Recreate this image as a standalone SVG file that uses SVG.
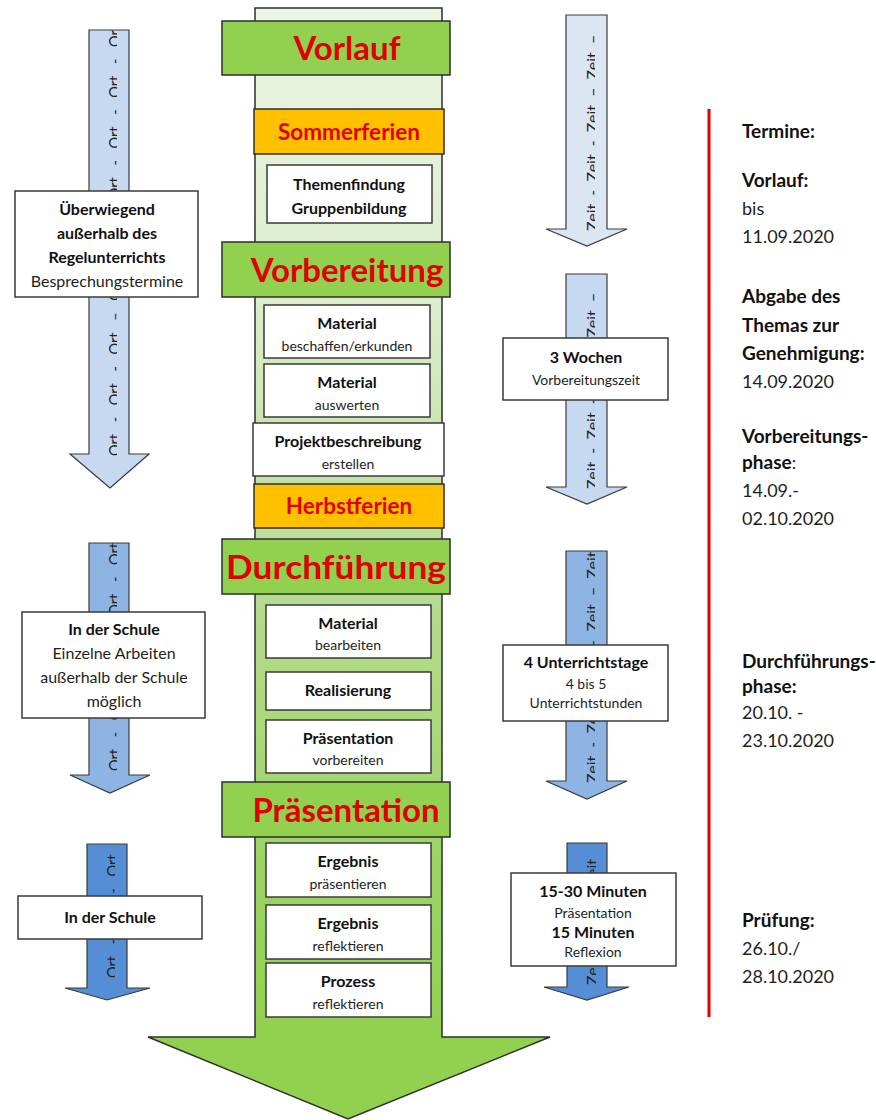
<svg xmlns="http://www.w3.org/2000/svg" width="876" height="1120" viewBox="0 0 876 1120">
<defs>
<linearGradient id="shaftGrad" gradientUnits="userSpaceOnUse" x1="0" y1="8" x2="0" y2="1040">
<stop offset="0" stop-color="#ebf5e3"/>
<stop offset="0.28" stop-color="#dcedcd"/>
<stop offset="0.57" stop-color="#b6db90"/>
<stop offset="0.86" stop-color="#9bd362"/>
<stop offset="1" stop-color="#92d050"/>
</linearGradient>
<clipPath id="cL1"><rect x="89" y="30" width="28" height="430"/></clipPath>
<clipPath id="cL2"><rect x="89" y="543" width="28" height="240"/></clipPath>
<clipPath id="cL3"><rect x="87" y="844" width="28" height="150"/></clipPath>
<clipPath id="cR1"><rect x="566" y="15" width="29" height="220"/></clipPath>
<clipPath id="cR2"><rect x="566" y="274" width="29" height="220"/></clipPath>
<clipPath id="cR3"><rect x="566" y="551" width="29" height="235"/></clipPath>
<clipPath id="cR4"><rect x="567" y="843" width="29" height="148"/></clipPath>
</defs>
<style>
text{font-family:Lato,"Liberation Sans",sans-serif;fill:#1e1e1e}
.b{font-weight:bold;fill:#111}
.box{fill:#fff;stroke:#3a3a3a;stroke-width:1.5}
.hdr{fill:#92d050;stroke:#2e2e2e;stroke-width:1.5}
.hol{fill:#ffc000;stroke:#2e2e2e;stroke-width:1.5}
.ht{font-weight:bold;fill:#e00000;font-size:33px;text-anchor:middle}
.ot{font-weight:bold;fill:#e00000;font-size:22.5px;text-anchor:middle}
.c{text-anchor:middle}
.t1{font-size:16px}
.t2{font-size:14px}
.t3{font-size:16px}
.arr{stroke:#3a3a3a;stroke-width:1.2}
.a1{fill:#dce6f2}
.a2{fill:#c6d9f1}
.a3{fill:#8eb4e3}
.a4{fill:#558ed5}
.rt{font-size:16px;fill:#222;word-spacing:4px}
.rl{font-size:14.5px;fill:#222;word-spacing:8px}
.side{font-size:18px}
.sb{font-size:19px;font-weight:bold;fill:#111}
</style>
<rect width="876" height="1120" fill="#fff"/>

<g id="main-arrow">
<polygon points="255,8 442,8 442,1037 550,1037 348,1119 148,1037 255,1037" fill="url(#shaftGrad)" stroke="#2e2e2e" stroke-width="1.5"/>
</g>

<g id="connectors">
<g id="arrow-left-1">
<polygon class="arr a2" points="89,30 129,30 129,454 149,454 110,488 70,454 89,454"/>
<g clip-path="url(#cL1)"><text class="rl" transform="translate(119.5,456) rotate(-90)">Ort - Ort - Ort – Ort - Ort - Ort - Ort - Ort - Ort -</text></g>
</g>
<g id="arrow-left-2">
<polygon class="arr a3" points="89,543 129,543 129,775 150,775 110,793 70,775 89,775"/>
<g clip-path="url(#cL2)"><text class="rl" transform="translate(119.5,771) rotate(-90)">Ort - Ort - Ort – Ort - Ort -</text></g>
</g>
<g id="arrow-left-3">
<polygon class="arr a4" points="87,844 127,844 127,988 150,988 107,1000 65,988 87,988"/>
<g clip-path="url(#cL3)"><text class="rl" transform="translate(117.5,978) rotate(-90)">Ort - Ort - Ort -</text></g>
</g>
<g id="arrow-right-1">
<polygon class="arr a1" points="566,15 607,15 607,229 627,229 587,246 546,229 566,229"/>
<g clip-path="url(#cR1)"><text class="rt" transform="translate(598,231) rotate(-90)">Zeit - Zeit - Zeit – Zeit –</text></g>
</g>
<g id="arrow-right-2">
<polygon class="arr a2" points="566,274 607,274 607,487 627,487 587,504 546,487 566,487"/>
<g clip-path="url(#cR2)"><text class="rt" transform="translate(598,489) rotate(-90)">Zeit - Zeit - Zeit – Zeit –</text></g>
</g>
<g id="arrow-right-3">
<polygon class="arr a3" points="566,551 607,551 607,781 627,781 587,799 546,781 566,781"/>
<g clip-path="url(#cR3)"><text class="rt" transform="translate(598,783) rotate(-90)">Zeit - Zeit - Zeit – Zeit – Zeit</text></g>
</g>
<g id="arrow-right-4">
<polygon class="arr a4" points="567,843 607,843 607,987 629,987 587,1000 544,987 567,987"/>
<g clip-path="url(#cR4)"><text class="rt" transform="translate(598,985) rotate(-90)">Zeit - Zeit - Zeit</text></g>
</g>
</g>

<g id="hdr-vorlauf"><rect class="hdr" x="222" y="21" width="228" height="54"/><text class="ht" x="347" y="60">Vorlauf</text></g>
<g id="hol-sommerferien"><rect class="hol" x="254" y="109" width="190" height="45"/><text class="ot" x="349" y="140">Sommerferien</text></g>
<g id="box-themenfindung"><rect class="box" x="267" y="165" width="165" height="58"/><text class="b c t1" x="349" y="190">Themenfindung</text><text class="b c t1" x="349" y="214">Gruppenbildung</text></g>
<g id="hdr-vorbereitung"><rect class="hdr" x="222" y="242" width="228" height="55"/><text class="ht" x="347" y="282">Vorbereitung</text></g>
<g id="box-material-1"><rect class="box" x="264" y="305" width="166" height="53"/><text class="b c t1" x="347" y="329">Material</text><text class="c t2" x="347" y="351">beschaffen/erkunden</text></g>
<g id="box-material-2"><rect class="box" x="264" y="364" width="166" height="53"/><text class="b c t1" x="347" y="388">Material</text><text class="c t2" x="347" y="410">auswerten</text></g>
<g id="box-projekt"><rect class="box" x="253" y="423" width="191" height="53"/><text class="b c t1" x="348" y="447">Projektbeschreibung</text><text class="c t2" x="348" y="469">erstellen</text></g>
<g id="hol-herbstferien"><rect class="hol" x="254" y="484" width="190" height="44"/><text class="ot" x="349" y="514">Herbstferien</text></g>
<g id="hdr-durchfuehrung"><rect class="hdr" x="222" y="539" width="228" height="55"/><text class="ht" x="336" y="579" textLength="220" lengthAdjust="spacingAndGlyphs">Durchführung</text></g>
<g id="box-material-3"><rect class="box" x="266" y="605" width="165" height="53"/><text class="b c t1" x="348" y="629">Material</text><text class="c t2" x="348" y="650">bearbeiten</text></g>
<g id="box-realisierung"><rect class="box" x="266" y="672" width="165" height="38"/><text class="b c t1" x="348" y="696">Realisierung</text></g>
<g id="box-praes-vorb"><rect class="box" x="266" y="720" width="165" height="53"/><text class="b c t1" x="348" y="744">Präsentation</text><text class="c t2" x="348" y="765">vorbereiten</text></g>
<g id="hdr-praesentation"><rect class="hdr" x="222" y="782" width="228" height="55"/><text class="ht" x="346" y="822">Präsentation</text></g>
<g id="box-ergebnis-1"><rect class="box" x="266" y="843" width="165" height="54"/><text class="b c t1" x="348" y="867">Ergebnis</text><text class="c t2" x="348" y="889">präsentieren</text></g>
<g id="box-ergebnis-2"><rect class="box" x="266" y="905" width="165" height="54"/><text class="b c t1" x="348" y="929">Ergebnis</text><text class="c t2" x="348" y="951">reflektieren</text></g>
<g id="box-prozess"><rect class="box" x="266" y="963" width="165" height="54"/><text class="b c t1" x="348" y="987">Prozess</text><text class="c t2" x="348" y="1009">reflektieren</text></g>

<g id="box-left-1"><rect class="box" x="15" y="191" width="183" height="106"/>
<text class="b c t3" x="107" y="215">Überwiegend</text>
<text class="b c t3" x="107" y="239">außerhalb des</text>
<text class="b c t3" x="107" y="263">Regelunterrichts</text>
<text class="c t3" x="107" y="287">Besprechungstermine</text></g>
<g id="box-left-2"><rect class="box" x="22" y="612" width="183" height="106"/>
<text class="b c t3" x="114" y="635">In der Schule</text>
<text class="c t3" x="114" y="659">Einzelne Arbeiten</text>
<text class="c t3" x="114" y="683">außerhalb der Schule</text>
<text class="c t3" x="114" y="707">möglich</text></g>
<g id="box-left-3"><rect class="box" x="18" y="896" width="184" height="43"/>
<text class="b c t3" x="110" y="923">In der Schule</text></g>

<g id="box-right-2"><rect class="box" x="503" y="338" width="165" height="62"/>
<text class="b c t1" x="586" y="363">3 Wochen</text>
<text class="c t2" x="586" y="385">Vorbereitungszeit</text></g>
<g id="box-right-3"><rect class="box" x="503" y="645" width="165" height="76"/>
<text class="b c t1" x="586" y="668">4 Unterrichtstage</text>
<text class="c t2" x="586" y="689">4 bis 5</text>
<text class="c t2" x="586" y="708">Unterrichtstunden</text></g>
<g id="box-right-4"><rect class="box" x="511" y="873" width="165" height="93"/>
<text class="b c t1" x="593" y="897">15-30 Minuten</text>
<text class="c t2" x="593" y="918">Präsentation</text>
<text class="b c t1" x="593" y="938">15 Minuten</text>
<text class="c t2" x="593" y="957">Reflexion</text></g>

<g id="red-line"><line x1="709" y1="109" x2="709" y2="1017" stroke="#e00000" stroke-width="3"/></g>

<g id="termine">
<text class="sb" x="742" y="138">Termine:</text>
<text class="sb" x="742" y="187">Vorlauf:</text>
<text class="side" x="742" y="215">bis</text>
<text class="side" x="742" y="243">11.09.2020</text>
<text class="sb" x="742" y="303">Abgabe des</text>
<text class="sb" x="742" y="332">Themas zur</text>
<text class="sb" x="742" y="360">Genehmigung:</text>
<text class="side" x="742" y="388">14.09.2020</text>
<text class="sb" x="742" y="443">Vorbereitungs-</text>
<text class="side" x="742" y="469"><tspan class="sb">phase</tspan>:</text>
<text class="side" x="742" y="497">14.09.-</text>
<text class="side" x="742" y="525">02.10.2020</text>
<text class="sb" x="742" y="668">Durchführungs-</text>
<text class="sb" x="742" y="693">phase:</text>
<text class="side" x="742" y="719">20.10. -</text>
<text class="side" x="742" y="747">23.10.2020</text>
<text class="sb" x="742" y="927">Prüfung:</text>
<text class="side" x="742" y="955">26.10./</text>
<text class="side" x="742" y="983">28.10.2020</text>
</g>
</svg>
